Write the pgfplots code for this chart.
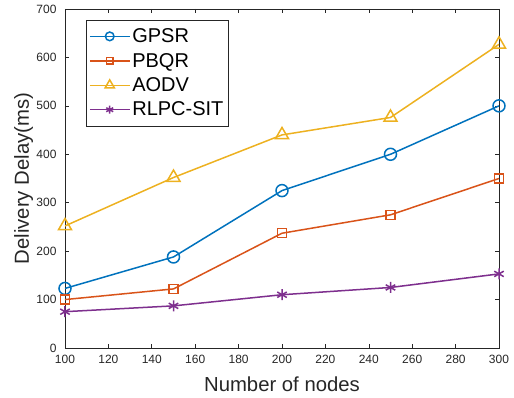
\documentclass[border=0pt]{standalone}
\usepackage{pgfplots}
\pgfplotsset{compat=1.18}
\usepackage{fontspec}
\setmainfont{Liberation Sans}
\definecolor{c1}{rgb}{0,0.447,0.741}
\definecolor{c2}{rgb}{0.85,0.325,0.098}
\definecolor{c3}{rgb}{0.929,0.694,0.125}
\definecolor{c4}{rgb}{0.494,0.184,0.556}
\definecolor{axc}{rgb}{0.15,0.15,0.15}
\begin{document}
\begin{tikzpicture}
\begin{axis}[
  scale only axis,
  width=434bp, height=339bp,
  xmin=100, xmax=300, ymin=0, ymax=700,
  xtick={100,120,...,300}, ytick={0,100,...,700},
  tick align=inside,
  major tick length=4.5bp,
  axis line style={axc, line width=0.6bp},
  every tick/.style={axc, line width=0.6bp},
  tick label style={font=\fontsize{12bp}{14bp}\selectfont, text=axc},
  xticklabel style={yshift=-4bp},
  yticklabel style={xshift=-5bp},
  /pgf/number format/assume math mode=true,
  /pgf/number format/1000 sep={},
  xlabel={Number of nodes},
  ylabel={Delivery Delay(ms)},
  label style={font=\fontsize{20.3bp}{22bp}\selectfont, text=axc},
  xlabel style={at={(axis description cs:0.5,0)}, anchor=base, yshift=-43bp},
  ylabel style={at={(axis description cs:0,0.5)}, anchor=base, rotate=0, yshift=36bp},
  legend style={at={(0.048,0.968)}, anchor=north west, draw=axc, line width=0.6bp,
    font=\fontsize{20bp}{22bp}\selectfont, row sep=5bp, inner xsep=3bp, inner ysep=6.5bp},
  legend cell align=left,
  every axis plot/.append style={line width=1.5bp},
  legend image code/.code={
    \draw[line width=1.5bp, mark repeat=2,mark phase=2, mark options={scale=0.72}] plot coordinates {(0cm,0cm) (0.7cm,0cm) (1.4cm,0cm)};
  },
]
\addplot[c1, mark=o, mark size=6bp] coordinates {(100,123) (150,188) (200,325) (250,400) (300,500)};
\addlegendentry{GPSR}
\addplot[c2, mark=square, mark size=4.5bp] coordinates {(100,100) (150,122) (200,237) (250,275) (300,350)};
\addlegendentry{PBQR}
\addplot[c3, mark=triangle, mark size=7.5bp] coordinates {(100,252) (150,352) (200,440) (250,476) (300,627)};
\addlegendentry{AODV}
\addplot[c4, mark=asterisk, mark size=5.5bp] coordinates {(100,75) (150,87) (200,110) (250,125) (300,153)};
\addlegendentry{RLPC-SIT}
\end{axis}
\pgfresetboundingbox
\path (-65bp,-50bp) rectangle (449bp,348bp);
\end{tikzpicture}
\end{document}
